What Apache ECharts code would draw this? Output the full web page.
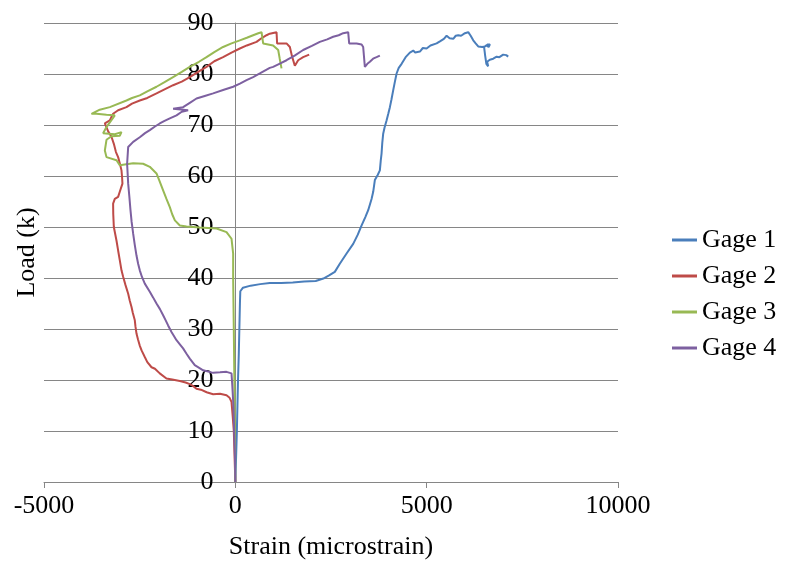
<!DOCTYPE html>
<html>
<head>
<meta charset="utf-8">
<script src="https://cdn.jsdelivr.net/npm/echarts@6/dist/echarts.min.js"></script>
<style>
html,body{margin:0;padding:0;background:#fff;}
#chart{width:785px;height:571px;}
</style>
</head>
<body>
<div id="chart"></div>
<script>
var seriesNames = ['Gage 1', 'Gage 2', 'Gage 3', 'Gage 4'];
var xTicks = [-5000, 0, 5000, 10000];
var yTicks = [0, 10, 20, 30, 40, 50, 60, 70, 80, 90];

var gage1Strain = [0,20,40,55,70,90,105,120,130,200,400,650,900,1200,1500,1800,2100,2300,2450,2600,2730,2907,3080,3200,3300,3400,3472,3560,3603,3646,3720,3777,3800,3821,3840,3864,3900,3952,4000,4039,4080,4125,4170,4214,4270,4345,4450,4561,4650,4700,4823,4900,4998,5100,5260,5346,5450,5521,5600,5694,5760,5825,5900,6000,6086,6150,6217,6280,6347,6450,6522,6600,6653,6620,6560,6500,6530,6560,6608,6580,6650,6740,6828,6900,7000,7080,7131];
var gage1Load = [0,5,10,15,20,25,30,35,37.4,38.1,38.5,38.8,39.0,39.0,39.1,39.3,39.4,39.9,40.5,41.2,42.8,44.8,46.7,48.5,50.3,52,53.3,55.5,56.9,59.2,60.2,61.1,63,64.4,66.5,68.3,69.5,70.9,72.3,73.5,75,76.8,78.5,80.1,81.2,82.0,83.3,84.2,84.6,84.2,84.4,85.1,85.0,85.6,86.0,86.4,86.9,87.5,87.0,86.9,87.5,87.6,87.5,88.0,88.2,87.5,86.6,86,85.4,85.3,85.4,85.8,85.8,85.3,85.6,85.3,83.5,82.0,81.5,82.4,82.8,83.0,83.4,83.3,83.8,83.7,83.4];

var gage2Strain = [0,-20,-40,-70,-100,-150,-230,-400,-580,-750,-900,-1015,-1100,-1190,-1300,-1450,-1650,-1800,-1975,-2100,-2190,-2300,-2366,-2450,-2500,-2545,-2583,-2610,-2627,-2680,-2713,-2760,-2800,-2870,-2930,-2975,-3020,-3063,-3105,-3175,-3190,-3194,-3150,-3063,-3020,-2950,-2960,-2975,-3020,-3063,-3120,-3175,-3237,-3320,-3410,-3280,-3237,-3194,-3063,-2845,-2700,-2497,-2300,-2060,-1850,-1626,-1400,-1190,-950,-753,-550,-320,-100,118,300,554,700,815,900,1077,1092,1338,1425,1480,1555,1642,1772,1930];
var gage2Load = [0,5,10,13,15.7,16.5,17.0,17.3,17.2,17.6,18.1,18.3,18.8,19.2,19.5,19.8,20.1,20.3,21.3,22.2,22.5,23.5,24.5,25.8,26.8,28,29.1,30.5,31.7,33.2,34.3,35.6,36.9,38.6,40.2,41.5,43.5,45.4,47.3,50,52.5,54.6,55.5,55.9,56.9,58.5,59.8,61.1,62.5,63.7,64.7,66.3,67.7,68.7,70.3,70.9,71.6,72.2,72.9,73.5,74.2,74.8,75.3,76.2,77,77.8,78.5,79.4,80.5,81.4,82.5,83.3,84.2,85.0,85.6,86.3,87.1,87.6,87.9,88.2,86.0,86.0,85.3,83.5,81.6,82.7,83.3,83.8];

var gage3Strain = [0,-10,-25,-40,-57,-57,-100,-230,-490,-930,-1275,-1450,-1580,-1650,-1712,-1800,-1887,-1990,-2060,-2235,-2410,-2670,-2850,-3020,-3105,-3367,-3410,-3367,-3237,-3020,-2975,-3150,-3455,-3367,-3280,-3150,-3367,-3628,-3760,-3542,-3280,-2845,-2700,-2497,-2300,-2060,-1850,-1626,-1400,-1190,-950,-753,-550,-320,-100,118,300,465,600,685,727,988,1120,1160,1207];
var gage3Load = [0,10,20,30,40,44.8,47.7,49.0,49.7,49.9,50.1,50.3,51.3,52.5,53.9,55.5,57.2,59.2,60.5,61.8,62.4,62.5,62.3,62.1,63.1,63.7,65,67.1,67.8,67.9,68.6,68.2,68.4,69.6,70.5,71.9,72.0,72.2,72.2,73,73.5,74.8,75.3,75.8,76.6,77.5,78.4,79.4,80.4,81.4,82.4,83.3,84.3,85.3,86,86.6,87.1,87.6,88.0,88.2,86.0,85.6,84.7,83,81.1];

var gage4Strain = [0,-10,-30,-50,-80,-100,-230,-400,-580,-840,-1060,-1190,-1280,-1365,-1450,-1537,-1668,-1757,-1820,-1887,-1970,-2060,-2150,-2235,-2366,-2440,-2497,-2540,-2583,-2630,-2670,-2710,-2740,-2770,-2800,-2828,-2800,-2670,-2497,-2360,-2235,-2100,-1975,-1850,-1712,-1537,-1400,-1234,-1626,-1365,-1200,-1015,-800,-580,-300,-57,120,293,465,640,900,988,1150,1338,1550,1772,2000,2208,2400,2557,2700,2818,2949,2975,3168,3300,3341,3385,3450,3516,3600,3690,3777];
var gage4Load = [0,5,10,15,19,21.3,21.6,21.5,21.4,21.9,22.9,24.2,25.2,26.2,27,27.8,29.4,30.7,31.7,32.7,33.9,35,36.2,37.3,38.9,40.2,41.5,42.8,44.4,46.6,48.7,51,53.3,56,58.5,62.4,65.7,66.7,67.6,68.4,69,69.7,70.3,70.8,71.3,71.9,72.6,72.9,73.2,73.5,74.3,75.2,75.7,76.2,76.9,77.5,78.1,78.8,79.4,80.1,81.2,81.4,82,82.7,83.6,84.7,85.5,86.3,86.8,87.3,87.6,88,88.2,86,86,85.8,85.3,81.4,82,82.4,83,83.3,83.6];

var colors = ['#4A7EBB', '#BE4B48', '#98B954', '#7D60A0'];

function zip(xs, ys) {
  var out = [];
  for (var i = 0; i < xs.length; i++) out.push([xs[i], ys[i]]);
  return out;
}
var allData = [zip(gage1Strain, gage1Load), zip(gage2Strain, gage2Load), zip(gage3Strain, gage3Load), zip(gage4Strain, gage4Load)];

var font = 'Liberation Serif';
var chart = echarts.init(document.getElementById('chart'));
chart.setOption({
  animation: false,
  backgroundColor: '#ffffff',
  color: colors,
  textStyle: { fontFamily: font, color: '#000' },
  grid: { left: 44, right: 167, top: 23, bottom: 89, containLabel: false, outerBoundsMode: 'none' },
  legend: {
    orient: 'vertical',
    left: 667,
    top: 222,
    itemWidth: 25,
    itemHeight: 3,
    itemGap: 10,
    icon: 'rect',
    data: seriesNames,
    textStyle: { fontFamily: font, fontSize: 26, color: '#000' }
  },
  xAxis: {
    type: 'value',
    min: xTicks[0],
    max: xTicks[xTicks.length - 1],
    interval: 5000,
    name: 'Strain (microstrain)',
    nameLocation: 'middle',
    nameGap: 52,
    nameTextStyle: { fontFamily: font, fontSize: 26, color: '#000' },
    axisLine: { onZero: true, lineStyle: { color: '#868686', width: 1 } },
    axisTick: { show: true, length: 6, lineStyle: { color: '#868686' } },
    axisLabel: { fontFamily: font, fontSize: 26, color: '#000', margin: 11, formatter: function (v) { return String(v); } },
    splitLine: { show: false }
  },
  yAxis: {
    type: 'value',
    min: yTicks[0],
    max: yTicks[yTicks.length - 1],
    interval: 10,
    offset: -191.5,
    name: 'Load (k)',
    nameLocation: 'middle',
    nameGap: 195,
    nameRotate: 90,
    nameTextStyle: { fontFamily: font, fontSize: 26, color: '#000' },
    axisLine: { show: true, onZero: false, lineStyle: { color: '#868686', width: 1 } },
    axisTick: { show: false },
    axisLabel: { fontFamily: font, fontSize: 26, color: '#000', margin: 22, formatter: function (v) { return String(v); } },
    splitLine: { show: true, lineStyle: { color: '#868686', width: 1 } }
  },
  series: seriesNames.map(function (n, i) {
    return {
      name: n,
      type: 'line',
      data: allData[i],
      showSymbol: false,
      symbol: 'none',
      lineStyle: { width: 2, color: colors[i] },
      itemStyle: { color: colors[i] }
    };
  })
});
</script>
</body>
</html>
